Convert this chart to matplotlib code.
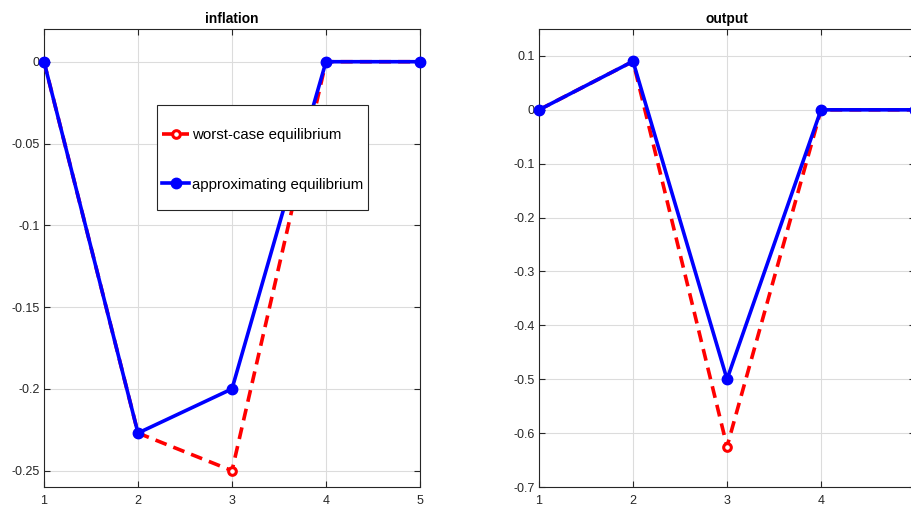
import numpy as np
import matplotlib
matplotlib.use("Agg")
from matplotlib import pyplot as plt
from matplotlib.patches import Rectangle

plt.rcParams['font.family'] = ['Liberation Sans', 'DejaVu Sans']

periods = [1, 2, 3, 4, 5]

# inflation panel
infl_worst = [0, -0.227, -0.25, 0, 0]
infl_approx = [0, -0.227, -0.2, 0, 0]

# output panel
out_worst = [0, 0.09, -0.625, 0, 0]
out_approx = [0, 0.09, -0.5, 0, 0]

infl_ticks = [-0.25, -0.2, -0.15, -0.1, -0.05, 0]
out_ticks = [-0.7, -0.6, -0.5, -0.4, -0.3, -0.2, -0.1, 0, 0.1]

fig = plt.figure(figsize=(9.11, 5.07), dpi=100)
ax1 = fig.add_axes([0.0483, 0.0394, 0.4127, 0.9034])
ax2 = fig.add_axes([0.5917, 0.0394, 0.4127, 0.9034])


def style(ax, title, ticks, ylim, xlabels):
    ax.set_xlim(1, 5)
    ax.set_ylim(*ylim)
    ax.set_xticks(periods)
    ax.set_xticklabels(xlabels)
    ax.set_yticks(ticks)
    ax.set_yticklabels(['%g' % t for t in ticks])
    ax.grid(True, color='#dcdcdc', lw=0.8)
    ax.set_axisbelow(True)
    ax.tick_params(direction='in', top=True, right=True, labelsize=9,
                   colors='#262626', length=4, width=0.8, pad=3)
    ax.tick_params(axis='x', pad=6)
    for s in ax.spines.values():
        s.set_color('#262626')
        s.set_linewidth(0.8)
    ax.set_title(title, fontsize=9.9, fontweight='bold', pad=4)


for ax, w, a in [(ax1, infl_worst, infl_approx), (ax2, out_worst, out_approx)]:
    ax.plot(periods, w, '--', color='red', lw=2.6, dashes=(3.3, 2.0),
            marker='o', ms=5.5, mfc='white', mec='red', mew=2.2,
            label='worst-case equilibrium', clip_on=False, zorder=3)
    ax.plot(periods, a, '-', color='blue', lw=2.6,
            marker='o', ms=7.5, mfc='blue', mec='blue',
            label='approximating equilibrium', clip_on=False, zorder=4)

style(ax1, 'inflation', infl_ticks, (-0.26, 0.02), ['1', '2', '3', '4', '5'])
# the last label of the right panel falls outside the picture
style(ax2, 'output', out_ticks, (-0.7, 0.15), ['1', '2', '3', '4', ''])

# legend box drawn by hand (MATLAB style: tight sides, tall rows)
box = Rectangle((0.30, 0.605), 0.562, 0.229, transform=ax1.transAxes,
                facecolor='white', edgecolor='#262626', lw=0.8, zorder=9)
ax1.add_patch(box)
leg = ax1.legend(loc='center left', bbox_to_anchor=(0.313, 0.714),
                 fontsize=10.8, frameon=False, handlelength=1.85,
                 handletextpad=0.2, labelspacing=2.35, borderpad=0,
                 borderaxespad=0)
leg.set_zorder(10)

plt.savefig("out.png", dpi=100)
